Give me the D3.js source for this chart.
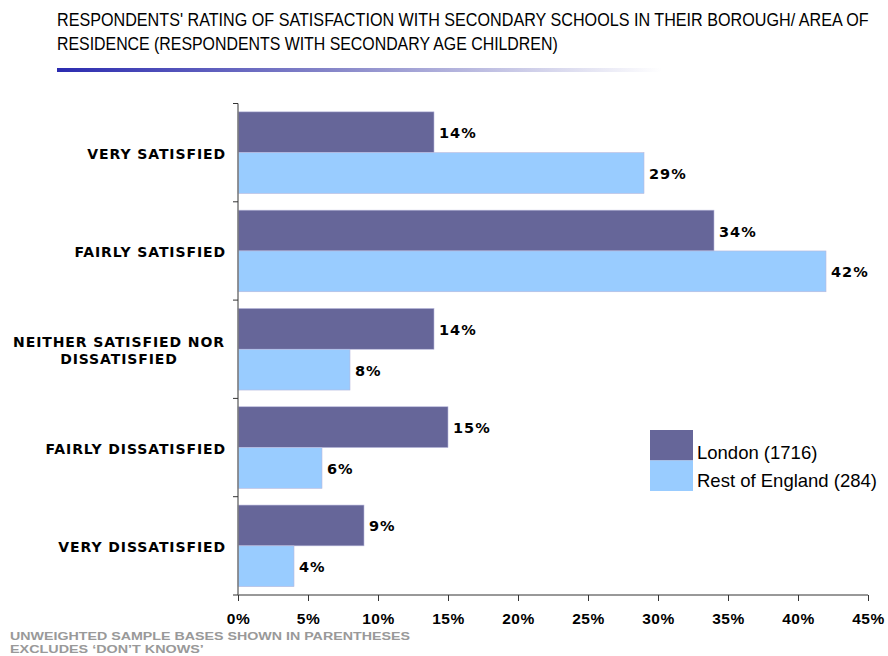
<!DOCTYPE html>
<html>
<head>
<meta charset="utf-8">
<script src="https://cdn.jsdelivr.net/npm/d3@7"></script>
<style>
  body { margin: 0; background: #fff; }
  svg { display: block; }
</style>
</head>
<body>
<script>
// chart data
var categories = ["VERY SATISFIED", "FAIRLY SATISFIED", "NEITHER SATISFIED NOR DISSATISFIED", "FAIRLY DISSATISFIED", "VERY DISSATISFIED"];
var seriesNames = ["London (1716)", "Rest of England (284)"];
var london = [14, 34, 14, 15, 9];
var restOfEngland = [29, 42, 8, 6, 4];
var xTicks = [0, 5, 10, 15, 20, 25, 30, 35, 40, 45];
var colors = ["#666699", "#99ccff"];

var width = 888, height = 656;

var svg = d3.select("body").append("svg")
  .attr("width", width).attr("height", height);

// squeeze a text horizontally to a given width (the original uses a narrow font)
function fitText(sel, x, y, w) {
  var natural = sel.node().getComputedTextLength();
  sel.attr("transform", "translate(" + x + "," + y + ") scale(" + (w / natural) + ",1)");
}

// title
var title = svg.append("g").attr("class", "title")
  .style("font-family", "Liberation Sans, Arial")
  .style("font-size", "18.5px");
fitText(title.append("text")
  .text("RESPONDENTS' RATING OF SATISFACTION WITH SECONDARY SCHOOLS IN THEIR BOROUGH/  AREA OF"), 57, 26, 812);
fitText(title.append("text")
  .text("RESIDENCE  (RESPONDENTS WITH SECONDARY AGE CHILDREN)"), 57, 50, 501);

// gradient rule under the title
var grad = svg.append("defs").append("linearGradient").attr("id", "rule");
grad.append("stop").attr("offset", "0%").attr("stop-color", "#2b2bb0");
grad.append("stop").attr("offset", "45%").attr("stop-color", "#8585c8");
grad.append("stop").attr("offset", "100%").attr("stop-color", "#ffffff");
svg.append("rect").attr("x", 57).attr("y", 68).attr("width", 605).attr("height", 4)
  .attr("fill", "url(#rule)");

// scales
var x = d3.scaleLinear().domain([0, 45]).range([238, 868]);
var y = d3.scaleBand().domain(categories).range([103.5, 595]).paddingInner(0.17).paddingOuter(0.085);
var ySub = d3.scaleBand().domain(seriesNames).range([0, y.bandwidth()]);

var rows = categories.map(function(c, i) {
  return { cat: c, vals: [london[i], restOfEngland[i]] };
});

var g = svg.append("g");
var groups = g.selectAll(".row").data(rows).enter().append("g")
  .attr("transform", function(d) { return "translate(0," + y(d.cat) + ")"; });

groups.selectAll("rect").data(function(d) { return d.vals; }).enter().append("rect")
  .attr("x", x(0))
  .attr("y", function(d, i) { return ySub(seriesNames[i]); })
  .attr("width", function(d) { return x(d) - x(0); })
  .attr("height", ySub.bandwidth())
  .attr("fill", function(d, i) { return colors[i]; })
  .attr("stroke", "#b8b8dc").attr("stroke-width", 0.6);

groups.selectAll(".val").data(function(d) { return d.vals; }).enter().append("text")
  .attr("x", function(d) { return x(d) + 5; })
  .attr("y", function(d, i) { return ySub(seriesNames[i]) + ySub.bandwidth() / 2 + 6; })
  .style("font-family", "DejaVu Sans, Verdana")
  .style("font-weight", "bold").style("font-size", "14.5px")
  .attr("letter-spacing", "1px")
  .text(function(d) { return d + "%"; });

// axes
var xAxis = svg.append("g").attr("transform", "translate(0,595)")
  .call(d3.axisBottom(x).tickValues(xTicks).tickSize(6).tickFormat(function(d) { return d + "%"; }));
xAxis.select(".domain").attr("stroke", "#333").attr("d", "M238,0H868");
xAxis.selectAll(".tick line").attr("stroke", "#333");
xAxis.selectAll(".tick text").attr("dy", 0).attr("y", 29)
  .style("font-family", "Liberation Sans, Arial").style("font-weight", "bold").style("font-size", "15.5px")
  .attr("letter-spacing", "0.5px")
  .attr("fill", "#000");

var yAxis = svg.append("g").attr("transform", "translate(238,0)");
yAxis.append("line").attr("x1", 0).attr("x2", 0).attr("y1", 103.5).attr("y2", 595)
  .attr("stroke", "#777").attr("stroke-width", 1.5);
var bounds = categories.map(function(c) { return y(c) - y.step() * y.paddingOuter(); }).concat([595]);
yAxis.selectAll(".yt").data(bounds).enter().append("line")
  .attr("x1", -5).attr("x2", 0).attr("y1", function(d) { return d; }).attr("y2", function(d) { return d; })
  .attr("stroke", "#333");

// category labels
var labelLines = {
  "NEITHER SATISFIED NOR DISSATISFIED": ["NEITHER SATISFIED NOR", "DISSATISFIED"]
};
categories.forEach(function(c) {
  var lines = labelLines[c] || [c];
  var cy = y(c) + y.bandwidth() / 2;
  var t = svg.append("text")
    .style("font-family", "DejaVu Sans, Verdana").style("font-weight", "bold").style("font-size", "14px")
    .attr("text-anchor", lines.length > 1 ? "middle" : "end")
    .attr("letter-spacing", "0.9px");
  lines.forEach(function(l, k) {
    t.append("tspan")
      .attr("x", lines.length > 1 ? 119 : 226)
      .attr("y", cy + 6 + (k - (lines.length - 1) / 2) * 17)
      .text(l);
  });
});

// legend
var legend = svg.append("g").attr("transform", "translate(650,430)");
seriesNames.forEach(function(s, i) {
  legend.append("rect").attr("x", 0).attr("y", i * 30.5).attr("width", 43).attr("height", 30.5)
    .attr("fill", colors[i]);
  legend.append("text").attr("x", 47).attr("y", i * 28 + 29)
    .style("font-family", "Liberation Sans, Arial").style("font-size", "18.5px")
    .text(s);
});

// footnotes
var foot = svg.append("g")
  .style("font-family", "Liberation Sans, Arial").style("font-weight", "bold").style("font-size", "11.5px")
  .attr("fill", "#999");
fitText(foot.append("text").text("UNWEIGHTED SAMPLE BASES SHOWN IN PARENTHESES"), 10, 639.5, 400);
fitText(foot.append("text").text("EXCLUDES \u2018DON\u2019T KNOWS\u2019"), 10, 652.5, 194);
</script>
</body>
</html>
